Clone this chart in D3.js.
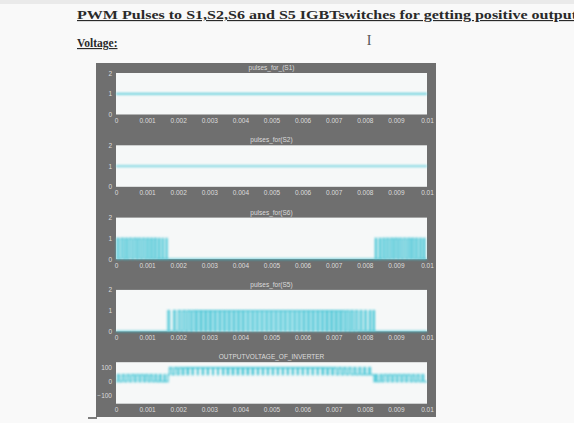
<!DOCTYPE html>
<html>
<head>
<meta charset="utf-8">
<script src="https://cdn.jsdelivr.net/npm/d3@7"></script>
<style>
  html, body { margin: 0; padding: 0; background: #f9f9f9; }
  svg { display: block; }
</style>
</head>
<body>
<div id="chart"></div>
<script>
// axis labels and titles
var panelTitles = ['pulses_for_(S1)', 'pulses_for(S2)', 'pulses_for(S6)', 'pulses_for(S5)', 'OUTPUTVOLTAGE_OF_INVERTER'];
var timeTicks = [0, 0.001, 0.002, 0.003, 0.004, 0.005, 0.006, 0.007, 0.008, 0.009, 0.01];
var pulseTicks = [0, 1, 2];
var voltageTicks = [-100, 0, 100];
var voltageDomain = [-160, 140];

// S1, S2 stay on the whole time [time, level]
var s1Signal = [[0, 1], [0.01, 1]];
var s2Signal = [[0, 1], [0.01, 1]];

// S6 switching (on, off)
var s6Pulses = [
    [0.00003, 0.00009], [0.00016, 0.00024], [0.00030, 0.00036], [0.00042, 0.00051], [0.00057, 0.00066],
    [0.00071, 0.00079], [0.00085, 0.00093], [0.00099, 0.00106], [0.00112, 0.00118], [0.00124, 0.00130],
    [0.00137, 0.00141], [0.00149, 0.00152], [0.00161, 0.00164],
    [0.00834, 0.00838], [0.00847, 0.00851], [0.00858, 0.00864], [0.00870, 0.00877], [0.00883, 0.00891],
    [0.00896, 0.00905], [0.00910, 0.00918], [0.00924, 0.00932], [0.00938, 0.00946], [0.00951, 0.00958],
    [0.00964, 0.00970], [0.00977, 0.00982], [0.00989, 0.00993]
];

// S5 switching (on, off)
var s5Pulses = [
    [0.00167, 0.00172], [0.00185, 0.00191], [0.00200, 0.00208], [0.00215, 0.00224], [0.00230, 0.00240],
    [0.00245, 0.00256], [0.00260, 0.00272], [0.00275, 0.00287], [0.00290, 0.00302], [0.00305, 0.00318],
    [0.00320, 0.00333], [0.00335, 0.00348], [0.00350, 0.00363], [0.00365, 0.00378], [0.00380, 0.00393],
    [0.00395, 0.00408], [0.00410, 0.00424], [0.00425, 0.00439], [0.00440, 0.00454], [0.00455, 0.00469],
    [0.00470, 0.00484], [0.00485, 0.00499], [0.00500, 0.00514], [0.00515, 0.00529], [0.00530, 0.00544],
    [0.00545, 0.00559], [0.00560, 0.00574], [0.00575, 0.00589], [0.00590, 0.00603], [0.00605, 0.00618],
    [0.00620, 0.00633], [0.00635, 0.00648], [0.00650, 0.00663], [0.00665, 0.00677], [0.00680, 0.00692],
    [0.00695, 0.00706], [0.00710, 0.00721], [0.00725, 0.00735], [0.00740, 0.00749], [0.00755, 0.00763],
    [0.00770, 0.00777], [0.00785, 0.00791], [0.00800, 0.00805], [0.00815, 0.00819], [0.00827, 0.00831]
];

// output voltage steps [time, volts]
var outputVoltage = [
    [0, 0], [0.00005, 50], [0.00011, 0], [0.00020, 50], [0.00027, 0], [0.00035, 50], [0.00043, 0],
    [0.00050, 50], [0.00059, 0], [0.00065, 50], [0.00074, 0], [0.00080, 50], [0.00089, 0], [0.00095, 50],
    [0.00103, 0], [0.00110, 50], [0.00117, 0], [0.00125, 50], [0.00131, 0], [0.00140, 50], [0.00145, 0],
    [0.00155, 50], [0.00158, 0],
    [0.00167, 50], [0.00172, 100], [0.00180, 50], [0.00188, 100], [0.00197, 50], [0.00203, 100], [0.00213, 50],
    [0.00218, 100], [0.00229, 50], [0.00233, 100], [0.00245, 50], [0.00248, 100], [0.00262, 50], [0.00264, 100],
    [0.00278, 50], [0.00281, 100], [0.00294, 50], [0.00297, 100], [0.00311, 50], [0.00313, 100], [0.00327, 50],
    [0.00329, 100], [0.00343, 50], [0.00346, 100], [0.00358, 50], [0.00362, 100], [0.00374, 50], [0.00378, 100],
    [0.00390, 50], [0.00394, 100], [0.00406, 50], [0.00410, 100], [0.00422, 50], [0.00426, 100], [0.00438, 50],
    [0.00442, 100], [0.00455, 50], [0.00458, 100], [0.00471, 50], [0.00474, 100], [0.00487, 50], [0.00490, 100],
    [0.00503, 50], [0.00506, 100], [0.00519, 50], [0.00522, 100], [0.00535, 50], [0.00538, 100], [0.00551, 50],
    [0.00554, 100], [0.00567, 50], [0.00570, 100], [0.00583, 50], [0.00586, 100], [0.00599, 50], [0.00602, 100],
    [0.00615, 50], [0.00618, 100], [0.00631, 50], [0.00634, 100], [0.00647, 50], [0.00650, 100], [0.00663, 50],
    [0.00667, 100], [0.00678, 50], [0.00683, 100], [0.00694, 50], [0.00699, 100], [0.00709, 50], [0.00716, 100],
    [0.00725, 50], [0.00732, 100], [0.00740, 50], [0.00748, 100], [0.00756, 50], [0.00765, 100], [0.00771, 50],
    [0.00781, 100], [0.00787, 50], [0.00797, 100], [0.00802, 50], [0.00813, 100], [0.00818, 50],
    [0.00830, 0], [0.00835, 50], [0.00840, 0], [0.00849, 50], [0.00855, 0], [0.00862, 50], [0.00871, 0],
    [0.00877, 50], [0.00886, 0], [0.00892, 50], [0.00901, 0], [0.00907, 50], [0.00916, 0], [0.00922, 50],
    [0.00931, 0], [0.00937, 50], [0.00946, 0], [0.00953, 50], [0.00960, 0], [0.00968, 50], [0.00975, 0],
    [0.00984, 50], [0.00989, 0], [0.01, 0]
];

var W = 574, H = 423;
var svg = d3.select('#chart').append('svg')
    .attr('width', W)
    .attr('height', H)
    .style('font-family', 'Liberation Sans, Arial, sans-serif');

// slight blur, the source is a soft screen capture
var blur = svg.append('defs').append('filter').attr('id', 'soft')
    .attr('filterUnits', 'userSpaceOnUse')
    .attr('x', 0).attr('y', 0).attr('width', W).attr('height', H);
blur.append('feGaussianBlur').attr('stdDeviation', 0.8);

svg.append('rect').attr('width', W).attr('height', H).attr('fill', '#f9f9f9');
svg.append('rect').attr('width', W).attr('height', 4).attr('fill', '#eaeaea');

// document heading
var serif = 'Liberation Serif, Times New Roman, serif';
svg.append('text')
    .attr('x', 77).attr('y', 19)
    .attr('font-family', serif).attr('font-size', 11.5).attr('font-weight', 'bold')
    .attr('text-decoration', 'underline').attr('fill', '#2a2a2a')
    .attr('textLength', 500).attr('lengthAdjust', 'spacingAndGlyphs')
    .text('PWM Pulses to  S1,S2,S6 and S5 IGBTswitches for getting  positive output');
svg.append('text')
    .attr('x', 77).attr('y', 47)
    .attr('font-family', serif).attr('font-size', 11.5).attr('font-weight', 'bold')
    .attr('text-decoration', 'underline').attr('fill', '#2a2a2a')
    .text('Voltage:');
svg.append('text')
    .attr('x', 369).attr('y', 45).attr('text-anchor', 'middle')
    .attr('font-family', serif).attr('font-size', 14).attr('fill', '#555')
    .text('I');

// figure background
svg.append('rect')
    .attr('x', 96).attr('y', 63).attr('width', 340).attr('height', 354)
    .attr('fill', '#6f6f6f');
svg.append('line')
    .attr('x1', 88).attr('x2', 97).attr('y1', 418).attr('y2', 418)
    .attr('stroke', '#555').attr('stroke-width', 1.5);

var x = d3.scaleLinear().domain([0, 0.01]).range([116, 427]);
var panelH = 41.5;
var lineColor = '#2fbfd0';

function pulseSteps(pulses) {
    var pts = [[0, 0]];
    pulses.forEach(function (p) {
        pts.push([p[0], 1]);
        pts.push([p[1], 0]);
    });
    pts.push([0.01, 0]);
    return pts;
}

function drawPanel(i, series, domain, ticks, isPulse) {
    var top = 73 + i * 72.3;
    var y = d3.scaleLinear().domain(domain).range([top + panelH, top]);
    var g = svg.append('g');

    g.append('rect')
        .attr('x', x.range()[0]).attr('y', top)
        .attr('width', x.range()[1] - x.range()[0]).attr('height', panelH)
        .attr('fill', '#f6f8f8');

    g.append('text')
        .attr('x', (x.range()[0] + x.range()[1]) / 2).attr('y', top - 3)
        .attr('text-anchor', 'middle').attr('font-size', 6.5).attr('fill', '#dcdcdc')
        .text(panelTitles[i]);

    var xAxis = d3.axisBottom(x).tickValues(timeTicks).tickSize(0).tickPadding(4)
        .tickFormat(function (d) { return d === 0 ? '0' : d3.format('.3~f')(d); });
    var xg = g.append('g').attr('transform', 'translate(0,' + (top + panelH) + ')').call(xAxis);
    xg.select('.domain').remove();
    xg.selectAll('text').attr('font-size', 6.5).attr('fill', '#dcdcdc');

    var yAxis = d3.axisLeft(y).tickValues(ticks).tickSize(0).tickPadding(4).tickFormat(d3.format('d'));
    var yg = g.append('g').attr('transform', 'translate(' + x.range()[0] + ',0)').call(yAxis);
    yg.select('.domain').remove();
    yg.selectAll('text').attr('font-size', 6.5).attr('fill', '#dcdcdc');

    var line = d3.line().curve(d3.curveStepAfter)
        .x(function (d) { return x(d[0]); })
        .y(function (d) { return y(d[1]); });

    var marks = g.append('g').attr('filter', 'url(#soft)');
    if (isPulse) {
        var area = d3.area().curve(d3.curveStepAfter)
            .x(function (d) { return x(d[0]); })
            .y0(y(0))
            .y1(function (d) { return y(d[1]); });
        marks.append('path').datum(series).attr('d', area)
            .attr('fill', '#8fdde8').attr('opacity', 0.8);
    }
    marks.append('path').datum(series).attr('d', line)
        .attr('fill', 'none').attr('stroke', lineColor)
        .attr('stroke-width', isPulse ? 1.1 : 1.3).attr('opacity', 0.9);
}

drawPanel(0, s1Signal, [0, 2], pulseTicks, false);
drawPanel(1, s2Signal, [0, 2], pulseTicks, false);
drawPanel(2, pulseSteps(s6Pulses), [0, 2], pulseTicks, true);
drawPanel(3, pulseSteps(s5Pulses), [0, 2], pulseTicks, true);
drawPanel(4, outputVoltage, voltageDomain, voltageTicks, false);
</script>
</body>
</html>
